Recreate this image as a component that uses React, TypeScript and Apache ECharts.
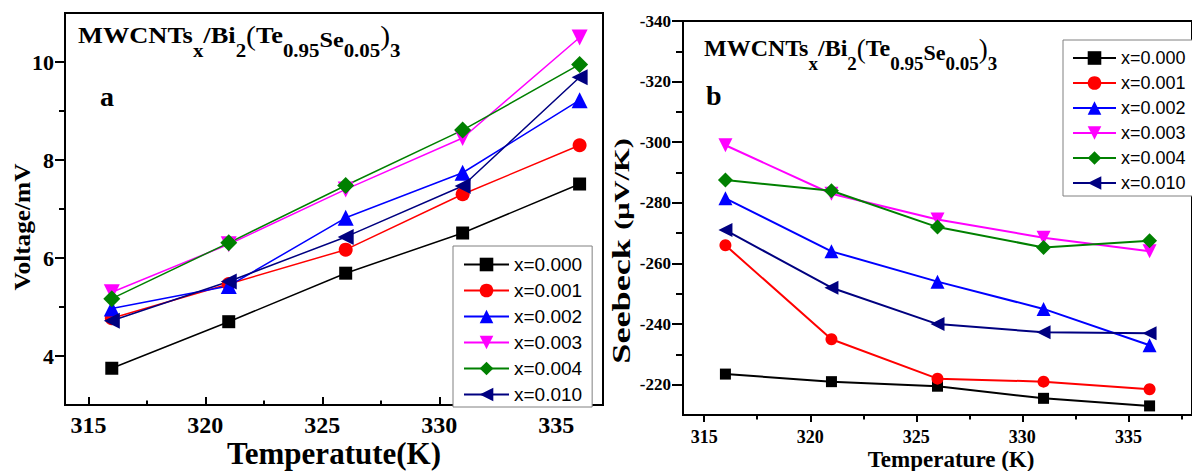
import React, { useEffect, useRef } from 'react';
import * as echarts from 'echarts';

// ---------- data ----------
const temperatures = [316, 321, 326, 331, 336];
const seriesNames = ['x=0.000', 'x=0.001', 'x=0.002', 'x=0.003', 'x=0.004', 'x=0.010'];

const voltage000 = [3.75, 4.70, 5.69, 6.51, 7.51];
const voltage001 = [4.77, 5.47, 6.17, 7.30, 8.30];
const voltage002 = [4.97, 5.43, 6.82, 7.74, 9.22];
const voltage003 = [5.30, 6.28, 7.40, 8.45, 10.50];
const voltage004 = [5.17, 6.31, 7.48, 8.61, 9.95];
const voltage010 = [4.72, 5.52, 6.43, 7.47, 9.69];

const seebeck000 = [-223.5, -221.0, -219.5, -215.5, -213.0];
const seebeck001 = [-266.0, -235.0, -222.0, -221.0, -218.5];
const seebeck002 = [-281.5, -264.0, -254.0, -245.0, -233.0];
const seebeck003 = [-299.0, -283.0, -274.5, -268.5, -264.0];
const seebeck004 = [-287.5, -284.0, -272.0, -265.3, -267.5];
const seebeck010 = [-271.0, -252.0, -240.0, -237.3, -237.0];

const xMajorTicks = [315, 320, 325, 330, 335];
const xMinorTicksA = [317.5, 322.5, 327.5, 332.5];
const xMinorTicksB = [317.5, 322.5, 327.5, 332.5, 337.5];
const voltageMajorTicks = [4, 6, 8, 10];
const voltageMinorTicks = [5, 7, 9];
const seebeckMajorTicks = [-340, -320, -300, -280, -260, -240, -220];
const seebeckMinorTicks = [-330, -310, -290, -270, -250, -230];

// formula pieces: text, font size, weight, baseline shift (subscripts go down)
const formulaPieces: [string, number, string, number][] = [
  ['MWCNTs', 24, 'bold', 0],
  ['x', 19, 'bold', 13],
  ['/Bi', 24, 'bold', 0],
  ['2', 19, 'bold', 13],
  ['(', 27, 'normal', 2],
  ['Te', 24, 'bold', 0],
  ['0.95', 19, 'bold', 13],
  ['Se', 22, 'bold', 3],
  ['0.05', 19, 'bold', 13],
  [')', 27, 'normal', 2],
  ['3', 19, 'bold', 13],
];

const voltageSets = [voltage000, voltage001, voltage002, voltage003, voltage004, voltage010];
const seebeckSets = [seebeck000, seebeck001, seebeck002, seebeck003, seebeck004, seebeck010];

// ---------- styles ----------
const colors = ['#000000', '#ff0000', '#0000ff', '#ff00ff', '#008000', '#000080'];
const symbols = ['rect', 'circle', 'triangle', 'triangle', 'diamond', 'triangle'];
const symbolRotations = [0, 0, 0, 180, 0, 90];
const symbolSizesA = [13, 14, 16, 16, 17, 16];
const symbolSizesB = [11, 12, 14, 14, 15, 14];

const SERIF = "'Liberation Serif', 'Times New Roman', serif";
const SANS = "'Liberation Sans', Arial, sans-serif";

function pairs(values: number[]) {
  return temperatures.map((t, i) => [t, values[i]]);
}

function buildFormula(x0: number, baseline: number, scaleX: number) {
  const canvas = document.createElement('canvas');
  const ctx = canvas.getContext('2d') as CanvasRenderingContext2D;
  let cx = 0;
  const children: any[] = [];
  for (const [text, size, weight, dy] of formulaPieces) {
    const font = `${weight} ${size}px ${SERIF}`;
    ctx.font = font;
    const w = ctx.measureText(text).width;
    children.push({
      type: 'text',
      x: cx,
      y: baseline + dy - 0.3375 * size,
      style: { text, font, fill: '#000', align: 'left', verticalAlign: 'middle' },
    });
    cx += w;
  }
  return { type: 'group', x: x0, y: 0, scaleX, children };
}

function tickAxis(base: any, ticks: number[], length: number, inside: boolean, showLine: boolean, label: any) {
  return {
    type: 'value',
    ...base,
    axisLine: { show: showLine, onZero: false, lineStyle: { color: '#000', width: 2 } },
    axisTick: { show: true, inside, length, customValues: ticks, lineStyle: { color: '#000', width: 2 } },
    axisLabel: label ? { ...label, customValues: ticks } : { show: false },
    splitLine: { show: false },
    minorTick: { show: false },
  };
}

export default function App() {
  const ref = useRef<HTMLDivElement>(null);

  useEffect(() => {
    if (!ref.current) return;
    const chart = echarts.init(ref.current, null, { renderer: 'svg' });

    const labelA_x = { show: true, margin: 8, fontFamily: SERIF, fontWeight: 'bold', fontSize: 24, color: '#000' };
    const labelA_y = { show: true, margin: 11, fontFamily: SERIF, fontWeight: 'bold', fontSize: 22, color: '#000' };
    const labelB_x = { show: true, margin: 13, fontFamily: SERIF, fontWeight: 'bold', fontSize: 18, color: '#000' };
    const labelB_y = { show: true, margin: 12, fontFamily: SERIF, fontWeight: 'bold', fontSize: 17, color: '#000' };

    const baseAx = { gridIndex: 0, min: 314, max: 337, position: 'bottom' };
    const baseAy = { gridIndex: 0, min: 3, max: 11, position: 'left' };
    const baseBx = { gridIndex: 1, min: 314, max: 338, position: 'bottom' };
    const baseBy = { gridIndex: 1, min: -340, max: -210, inverse: true, position: 'left' };

    const seriesA = voltageSets.map((vals, i) => ({
      type: 'line',
      name: seriesNames[i],
      xAxisIndex: 0,
      yAxisIndex: 0,
      data: pairs(vals),
      symbol: symbols[i],
      symbolRotate: symbolRotations[i],
      symbolSize: symbolSizesA[i],
      lineStyle: { color: colors[i], width: 1.5 },
      itemStyle: { color: colors[i] },
      emphasis: { disabled: true },
    }));
    const seriesB = seebeckSets.map((vals, i) => ({
      type: 'line',
      name: seriesNames[i],
      xAxisIndex: 2,
      yAxisIndex: 2,
      data: pairs(vals),
      symbol: symbols[i],
      symbolRotate: symbolRotations[i],
      symbolSize: symbolSizesB[i],
      lineStyle: { color: colors[i], width: 2 },
      itemStyle: { color: colors[i] },
      emphasis: { disabled: true },
    }));

    const legendBase = {
      orient: 'vertical',
      itemHeight: 17,
      itemGap: 7,
      backgroundColor: '#fff',
      borderColor: '#808080',
      borderWidth: 1,
      selectedMode: false,
      data: seriesNames,
    };

    chart.setOption({
      animation: false,
      backgroundColor: '#fff',
      grid: [
        { left: 65, top: 13, width: 538, height: 392, show: true, borderColor: '#000', borderWidth: 2, backgroundColor: 'transparent' },
        { left: 683, top: 21, width: 518.5, height: 394, show: true, borderColor: '#000', borderWidth: 2, backgroundColor: 'transparent' },
      ],
      xAxis: [
        tickAxis(baseAx, xMajorTicks, 8, true, true, labelA_x),
        tickAxis(baseAx, xMinorTicksA, 4.5, true, false, null),
        tickAxis(baseBx, xMajorTicks, 7, false, true, labelB_x),
        tickAxis(baseBx, xMinorTicksB, 4.5, false, false, null),
      ],
      yAxis: [
        tickAxis(baseAy, voltageMajorTicks, 10, false, true, labelA_y),
        tickAxis(baseAy, voltageMinorTicks, 6, false, false, null),
        tickAxis(baseBy, seebeckMajorTicks, 11, false, true, labelB_y),
        tickAxis(baseBy, seebeckMinorTicks, 7, false, false, null),
      ],
      legend: [
        { ...legendBase, left: 453, top: 246, itemWidth: 45, padding: [9, 10, 3, 10], textStyle: { fontFamily: SANS, fontSize: 19, color: '#000' } },
        { ...legendBase, left: 1063, top: 40, itemWidth: 43, padding: [9, 20, 4, 9], textStyle: { fontFamily: SANS, fontSize: 18, color: '#000' } },
      ],
      graphic: [
        buildFormula(78, 43.5, 1.1),
        buildFormula(704, 56.5, 1.0),
        { type: 'text', x: 100, y: 96, style: { text: 'a', fill: '#000', font: `bold 28px ${SERIF}`, align: 'left', verticalAlign: 'middle' } },
        { type: 'text', x: 706, y: 95, style: { text: 'b', fill: '#000', font: `bold 28px ${SERIF}`, align: 'left', verticalAlign: 'middle' } },
        { type: 'text', x: 334, y: 453, style: { text: 'Temperatute(K)', fill: '#000', font: `bold 31px ${SERIF}`, align: 'center', verticalAlign: 'middle' } },
        { type: 'text', x: 951, y: 459, style: { text: 'Temperature (K)', fill: '#000', font: `bold 23px ${SERIF}`, align: 'center', verticalAlign: 'middle' } },
        { type: 'text', x: 22, y: 227, rotation: Math.PI / 2, scaleX: 1.1, style: { text: 'Voltage/mV', fill: '#000', font: `bold 23px ${SERIF}`, align: 'center', verticalAlign: 'middle' } },
        {
          type: 'text', x: 622, y: 251, rotation: Math.PI / 2, scaleX: 1.45,
          style: {
            text: '{a|Seebeck }{b|(μV/K)}', fill: '#000', align: 'center', verticalAlign: 'middle',
            rich: {
              a: { fontFamily: SERIF, fontWeight: 'bold', fontSize: 25 },
              b: { fontFamily: SERIF, fontWeight: 'bold', fontSize: 21 },
            },
          },
        },
      ],
      series: [...seriesA, ...seriesB],
    });

    return () => chart.dispose();
  }, []);

  return (
    <div
      ref={ref}
      style={{ position: 'absolute', left: 0, top: 0, width: 1192, height: 471, background: '#fff' }}
    />
  );
}
